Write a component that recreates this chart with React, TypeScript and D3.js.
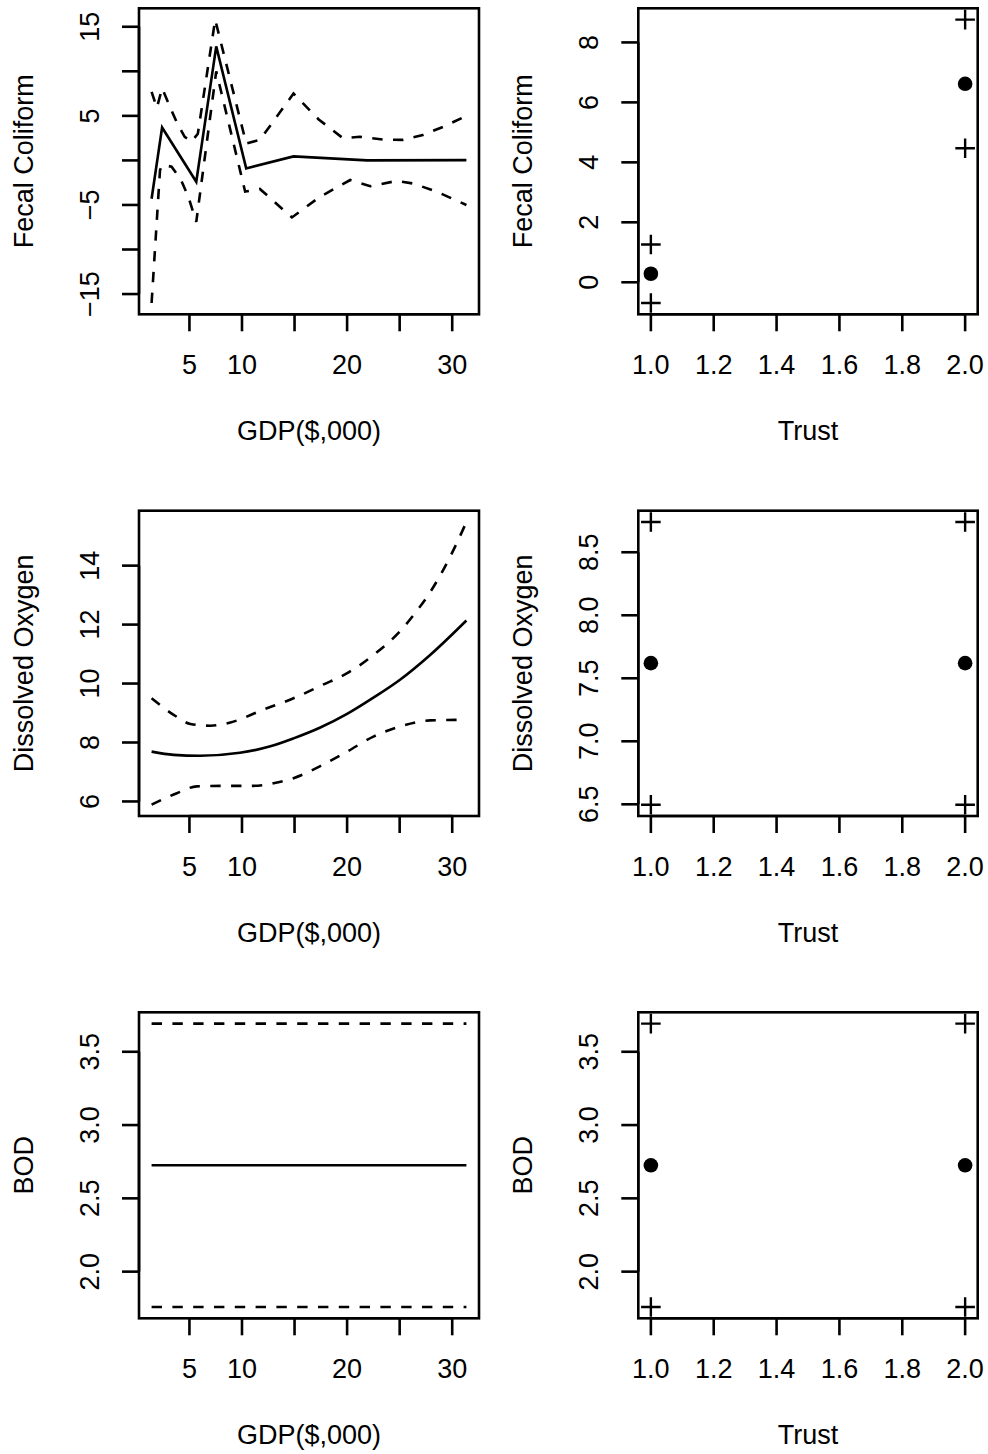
import React from "react";
import * as d3 from "d3";

const W = 988;
const H = 1454;
const FONT = "'Liberation Sans', Arial, Helvetica, sans-serif";
const FS = 27;

type Pt = [number, number];

// ---- Fecal Coliform vs GDP: fitted effect with upper/lower bands ----
const fecalGdpFit: Pt[] = [
  [1.4, -4.3], [2.4, 3.7], [5.65, -2.4], [7.55, 12.8], [10.4, -0.9],
  [14.9, 0.45], [21.9, 0.0], [31.35, 0.03],
];
const fecalGdpUpper: Pt[] = [
  [1.4, 7.7], [1.9, 5.9], [2.4, 8.1], [3.3, 5.6], [3.9, 4.0], [4.55, 2.65],
  [5.2, 2.1], [5.8, 3.0], [7.45, 15.8], [10.4, 1.9], [11.7, 2.3], [14.9, 7.5],
  [17.3, 4.6], [19.6, 2.5], [21.2, 2.65], [23.4, 2.35], [25.3, 2.3],
  [27.2, 2.85], [29.2, 3.8], [31.35, 5.0],
];
const fecalGdpLower: Pt[] = [
  [1.4, -16.0], [2.2, -1.1], [2.4, -0.5], [3.3, -0.7], [4.2, -2.2],
  [4.9, -4.1], [5.65, -6.9], [7.55, 10.0], [10.3, -3.5], [11.7, -3.2],
  [14.75, -6.4], [17.4, -4.1], [20.3, -2.2], [22.2, -2.9], [24.7, -2.3],
  [26.3, -2.6], [28.5, -3.5], [31.35, -5.0],
];

// ---- Dissolved Oxygen vs GDP ----
const doGdpFit: Pt[] = [
  [1.4, 7.69], [3.5, 7.58], [6.0, 7.55], [9.8, 7.65], [12.7, 7.87],
  [14.9, 8.14], [17.4, 8.5], [20.0, 8.97], [22.5, 9.52], [25.0, 10.12],
  [27.9, 10.97], [31.35, 12.14],
];
const doGdpUpper: Pt[] = [
  [1.4, 9.5], [3.5, 8.94], [5.1, 8.63], [7.0, 8.57], [8.9, 8.68],
  [12.0, 9.11], [14.9, 9.5], [17.7, 9.96], [20.0, 10.35], [22.8, 11.05],
  [25.0, 11.76], [26.6, 12.45], [27.9, 13.1], [29.8, 14.3], [31.35, 15.48],
];
const doGdpLower: Pt[] = [
  [1.4, 5.89], [3.8, 6.28], [5.7, 6.51], [8.9, 6.53], [11.1, 6.53],
  [13.0, 6.62], [14.9, 6.79], [17.4, 7.19], [20.0, 7.69], [22.5, 8.2],
  [25.0, 8.54], [27.9, 8.75], [31.35, 8.77],
];

// ---- BOD vs GDP (constant effect) ----
const bodGdpFit: Pt[] = [[1.4, 2.7255], [31.35, 2.7255]];
const bodGdpUpper: Pt[] = [[1.4, 3.692], [31.35, 3.692]];
const bodGdpLower: Pt[] = [[1.4, 1.759], [31.35, 1.759]];

// ---- Trust factor levels ----
const trustLevels = [1, 2];
const fecalTrustFit = [0.285, 6.62];
const fecalTrustLower = [-0.69, 4.47];
const fecalTrustUpper = [1.26, 8.76];
const doTrustFit = [7.62, 7.62];
const doTrustLower = [6.497, 6.497];
const doTrustUpper = [8.74, 8.74];
const bodTrustFit = [2.7255, 2.7255];
const bodTrustLower = [1.759, 1.759];
const bodTrustUpper = [3.692, 3.692];

// ---- Axis ticks and labels ----
const gdpTicks = [5, 10, 15, 20, 25, 30];
const gdpTickLabels = ["5", "10", "", "20", "", "30"];
const trustTicks = [1.0, 1.2, 1.4, 1.6, 1.8, 2.0];
const trustTickLabels = ["1.0", "1.2", "1.4", "1.6", "1.8", "2.0"];

const fecalGdpYTicks = [-15, -10, -5, 0, 5, 10, 15];
const fecalGdpYLabels = ["\u221215", "", "\u22125", "", "5", "", "15"];
const fecalTrustYTicks = [0, 2, 4, 6, 8];
const fecalTrustYLabels = ["0", "2", "4", "6", "8"];
const doGdpYTicks = [6, 8, 10, 12, 14];
const doGdpYLabels = ["6", "8", "10", "12", "14"];
const doTrustYTicks = [6.5, 7.0, 7.5, 8.0, 8.5];
const doTrustYLabels = ["6.5", "7.0", "7.5", "8.0", "8.5"];
const bodYTicks = [2.0, 2.5, 3.0, 3.5];
const bodYLabels = ["2.0", "2.5", "3.0", "3.5"];

const responses = ["Fecal Coliform", "Dissolved Oxygen", "BOD"];
const gdpTitle = "GDP($,000)";
const trustTitle = "Trust";

// ---- Layout of the 3 x 2 grid of plot boxes ----
const cols = [
  { left: 139, right: 479 },
  { left: 638.3, right: 977.7 },
];
const rows = [
  { top: 8.3, bottom: 314.3 },
  { top: 510.7, bottom: 816 },
  { top: 1012.3, bottom: 1318.3 },
];

const pad = (lo: number, hi: number): [number, number] => {
  const d = (hi - lo) * 0.04;
  return [lo - d, hi + d];
};

type CurveSpec = {
  kind: "curve";
  fit: Pt[];
  upper: Pt[];
  lower: Pt[];
  smooth: boolean;
};
type FactorSpec = {
  kind: "factor";
  fit: number[];
  lower: number[];
  upper: number[];
};
type PanelSpec = (CurveSpec | FactorSpec) & {
  row: number;
  col: number;
  yTicks: number[];
  yLabels: string[];
  yTitle: string;
};

const panels: PanelSpec[] = [
  { kind: "curve", row: 0, col: 0, fit: fecalGdpFit, upper: fecalGdpUpper, lower: fecalGdpLower, smooth: false, yTicks: fecalGdpYTicks, yLabels: fecalGdpYLabels, yTitle: responses[0] },
  { kind: "factor", row: 0, col: 1, fit: fecalTrustFit, lower: fecalTrustLower, upper: fecalTrustUpper, yTicks: fecalTrustYTicks, yLabels: fecalTrustYLabels, yTitle: responses[0] },
  { kind: "curve", row: 1, col: 0, fit: doGdpFit, upper: doGdpUpper, lower: doGdpLower, smooth: true, yTicks: doGdpYTicks, yLabels: doGdpYLabels, yTitle: responses[1] },
  { kind: "factor", row: 1, col: 1, fit: doTrustFit, lower: doTrustLower, upper: doTrustUpper, yTicks: doTrustYTicks, yLabels: doTrustYLabels, yTitle: responses[1] },
  { kind: "curve", row: 2, col: 0, fit: bodGdpFit, upper: bodGdpUpper, lower: bodGdpLower, smooth: false, yTicks: bodYTicks, yLabels: bodYLabels, yTitle: responses[2] },
  { kind: "factor", row: 2, col: 1, fit: bodTrustFit, lower: bodTrustLower, upper: bodTrustUpper, yTicks: bodYTicks, yLabels: bodYLabels, yTitle: responses[2] },
];

const LW = 2.6;
const TICK = 17;

function Panel({ p }: { p: PanelSpec }) {
  const { left, right } = cols[p.col];
  const { top, bottom } = rows[p.row];

  let xDomain: [number, number];
  let yVals: number[];
  if (p.kind === "curve") {
    const xs = p.fit.map((d) => d[0]);
    xDomain = pad(d3.min(xs)!, d3.max(xs)!);
    yVals = [...p.fit, ...p.upper, ...p.lower].map((d) => d[1]);
  } else {
    xDomain = pad(d3.min(trustLevels)!, d3.max(trustLevels)!);
    yVals = [...p.fit, ...p.upper, ...p.lower];
  }
  const yDomain = pad(d3.min(yVals)!, d3.max(yVals)!);

  const x = d3.scaleLinear().domain(xDomain).range([left, right]);
  const y = d3.scaleLinear().domain(yDomain).range([bottom, top]);

  const xTicks = p.kind === "curve" ? gdpTicks : trustTicks;
  const xLabels = p.kind === "curve" ? gdpTickLabels : trustTickLabels;
  const xTitle = p.kind === "curve" ? gdpTitle : trustTitle;

  const line = d3
    .line<Pt>()
    .x((d) => x(d[0]))
    .y((d) => y(d[1]))
    .curve(p.kind === "curve" && p.smooth ? d3.curveMonotoneX : d3.curveLinear);

  const cx = (left + right) / 2;
  const cy = (top + bottom) / 2;

  return (
    <g>
      {p.kind === "curve" ? (
        <g fill="none" stroke="#000" strokeWidth={LW}>
          <path d={line(p.fit) || ""} />
          <path d={line(p.upper) || ""} strokeDasharray="10.4 10.4" />
          <path d={line(p.lower) || ""} strokeDasharray="10.4 10.4" />
        </g>
      ) : (
        <g>
          {trustLevels.map((lv, i) => (
            <g key={lv}>
              <circle cx={x(lv)} cy={y(p.fit[i])} r={7.3} fill="#000" />
              {[p.lower[i], p.upper[i]].map((v, j) => {
                const px = x(lv);
                const py = y(v);
                const s = 9.8;
                return (
                  <path
                    key={j}
                    d={`M${px - s},${py}H${px + s}M${px},${py - s}V${py + s}`}
                    stroke="#000"
                    strokeWidth={2.4}
                    fill="none"
                  />
                );
              })}
            </g>
          ))}
        </g>
      )}

      {/* plot frame */}
      <rect
        x={left}
        y={top}
        width={right - left}
        height={bottom - top}
        fill="none"
        stroke="#000"
        strokeWidth={LW}
      />

      {/* x axis */}
      <g stroke="#000" strokeWidth={LW}>
        <line x1={x(xTicks[0])} x2={x(xTicks[xTicks.length - 1])} y1={bottom} y2={bottom} />
        {xTicks.map((t) => (
          <line key={t} x1={x(t)} x2={x(t)} y1={bottom} y2={bottom + TICK} />
        ))}
      </g>
      <g fontFamily={FONT} fontSize={FS} textAnchor="middle" fill="#000">
        {xTicks.map((t, i) =>
          xLabels[i] ? (
            <text key={t} x={x(t)} y={bottom + 60}>
              {xLabels[i]}
            </text>
          ) : null
        )}
        <text x={cx} y={bottom + 126}>
          {xTitle}
        </text>
      </g>

      {/* y axis */}
      <g stroke="#000" strokeWidth={LW}>
        <line x1={left} x2={left} y1={y(p.yTicks[0])} y2={y(p.yTicks[p.yTicks.length - 1])} />
        {p.yTicks.map((t) => (
          <line key={t} x1={left - TICK} x2={left} y1={y(t)} y2={y(t)} />
        ))}
      </g>
      <g fontFamily={FONT} fontSize={FS} textAnchor="middle" fill="#000">
        {p.yTicks.map((t, i) =>
          p.yLabels[i] ? (
            <text key={t} transform={`translate(${left - 40},${y(t)}) rotate(-90)`}>
              {p.yLabels[i]}
            </text>
          ) : null
        )}
        <text transform={`translate(${left - 106},${cy}) rotate(-90)`}>{p.yTitle}</text>
      </g>
    </g>
  );
}

export default function App() {
  return (
    <svg
      width={W}
      height={H}
      viewBox={`0 0 ${W} ${H}`}
      style={{ position: "absolute", left: 0, top: 0, background: "#fff" }}
    >
      <rect x={0} y={0} width={W} height={H} fill="#fff" />
      {panels.map((p, i) => (
        <Panel key={i} p={p} />
      ))}
    </svg>
  );
}
